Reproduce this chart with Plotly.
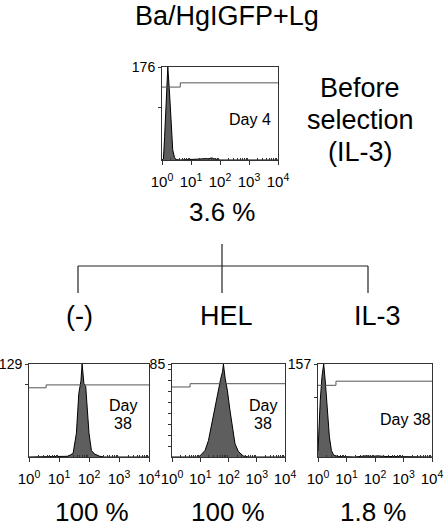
import math
import plotly.graph_objects as go

W, H = 446, 526

# ---------------- data ----------------
title_text = "Ba/HgIGFP+Lg"
branch_labels = ["(-)", "HEL", "IL-3"]
top_percent = "3.6 %"
bottom_percents = ["100 %", "100 %", "1.8 %"]
decade_labels = ["10<sup>0</sup>", "10<sup>1</sup>", "10<sup>2</sup>", "10<sup>3</sup>", "10<sup>4</sup>"]

# histograms: log10 fluorescence positions and counts
top_logx = [0.0, 0.05, 0.09, 0.14, 0.17, 0.20, 0.26, 0.32, 0.37, 0.43, 0.49, 0.6, 1.2, 1.35, 1.5, 1.6, 1.7, 1.8, 1.9, 2.0, 4.0]
top_count = [0, 2, 44, 114, 165, 176, 127, 63, 19, 5, 1, 0, 1, 2, 3, 2, 4, 2, 1, 0, 0]
top_ymax = 176
top_ticks = [100]
top_gate = [0.63, 138, 146]  # step position (log), low level, high level
top_day = "Day 4"

neg_logx = [0.0, 1.2, 1.30, 1.47, 1.58, 1.66, 1.73, 1.77, 1.83, 1.89, 1.94, 2.00, 2.08, 2.19, 2.36, 2.5, 4.0]
neg_count = [0, 0, 1, 5, 33, 88, 105, 129, 102, 98, 70, 33, 9, 4, 1, 0, 0]
neg_ymax = 129
neg_ticks = [100]
neg_gate = [0.57, 96, 100]

hel_logx = [0.0, 0.9, 0.99, 1.17, 1.29, 1.40, 1.52, 1.64, 1.72, 1.79, 1.82, 1.88, 1.96, 2.05, 2.15, 2.23, 2.35, 2.52, 2.7, 4.0]
hel_count = [0, 0, 1, 6, 15, 30, 46, 61, 71, 78, 85, 72, 61, 43, 25, 12, 5, 1, 0, 0]
hel_ymax = 85
hel_ticks = [10, 20, 30, 40, 50, 60, 70, 80]
hel_gate = [0.64, 64, 67]

il3_logx = [0.0, 0.02, 0.08, 0.14, 0.20, 0.26, 0.32, 0.40, 0.47, 0.55, 0.7, 1.3, 1.5, 1.7, 1.9, 2.1, 2.3, 4.0]
il3_count = [10, 40, 96, 136, 157, 125, 78, 34, 11, 3, 1, 0, 1, 2, 1, 2, 1, 0]
il3_ymax = 157
il3_ticks = [100]
il3_gate = [0.63, 121, 128]

panels = [
    dict(x=top_logx, y=top_count, ymax=top_ymax, ticks=top_ticks, gate=top_gate),
    dict(x=neg_logx, y=neg_count, ymax=neg_ymax, ticks=neg_ticks, gate=neg_gate),
    dict(x=hel_logx, y=hel_count, ymax=hel_ymax, ticks=hel_ticks, gate=hel_gate),
    dict(x=il3_logx, y=il3_count, ymax=il3_ymax, ticks=il3_ticks, gate=il3_gate),
]

# ---------------- layout (pixel boxes) ----------------
boxes = [(162, 278, 67, 160), (29, 149, 364, 457), (172, 285, 364, 457), (318, 432, 364, 457)]


def px(x):
    return x / W


def py(y):
    return 1 - y / H


FONT = "Liberation Sans, Arial, Helvetica, sans-serif"
minor_vals = [k + math.log10(m) for k in range(4) for m in range(2, 10)]

fig = go.Figure()
layout = dict(
    width=W, height=H, margin=dict(l=0, r=0, t=0, b=0, pad=0, autoexpand=False),
    paper_bgcolor="white", plot_bgcolor="white", showlegend=False,
    font=dict(family=FONT, color="black"),
)

for i, (p, b) in enumerate(zip(panels, boxes)):
    sfx = "" if i == 0 else str(i + 1)
    xa, ya = "x" + sfx, "y" + sfx
    fig.add_trace(go.Scatter(
        x=p["x"], y=p["y"], mode="lines", fill="tozeroy",
        fillcolor="#5e5e5e", line=dict(color="black", width=1),
        xaxis=xa, yaxis=ya, hoverinfo="skip"))
    g = p["gate"]
    fig.add_trace(go.Scatter(
        x=[0, g[0], g[0], 4], y=[g[1], g[1], g[2], g[2]], mode="lines",
        line=dict(color="#555555", width=1), xaxis=xa, yaxis=ya, hoverinfo="skip"))
    x0, x1, y0, y1 = b
    layout["xaxis" + sfx] = dict(
        domain=[px(x0), px(x1)], anchor=ya, range=[0, 4], type="linear",
        automargin=False,
        showgrid=False, zeroline=False, showline=True, linecolor="#333333", linewidth=1,
        mirror=True, ticks="outside", ticklen=4, tickcolor="#333333",
        ticklabelstandoff=4,
        tickvals=[0, 1, 2, 3, 4], ticktext=decade_labels,
        tickfont=dict(size=15, family=FONT), fixedrange=True,
        minor=dict(tickvals=minor_vals, ticks="inside", ticklen=2, tickcolor="#333333"),
    )
    yt = p["ticks"] + [p["ymax"]]
    layout["yaxis" + sfx] = dict(
        domain=[py(y1), py(y0)], anchor=xa, range=[0, p["ymax"]],
        automargin=False,
        showgrid=False, zeroline=False, showline=True, linecolor="#333333", linewidth=1,
        mirror=True, ticks="outside", ticklen=3, tickcolor="#333333",
        tickvals=yt, ticktext=[""] * len(p["ticks"]) + [str(p["ymax"])],
        tickfont=dict(size=14, family=FONT), fixedrange=True,
    )

fig.update_layout(**layout)

# tree lines
line_style = dict(color="#222222", width=1.2)
shapes = [
    dict(type="line", xref="paper", yref="paper", x0=px(78), x1=px(368), y0=py(266), y1=py(266), line=line_style),
    dict(type="line", xref="paper", yref="paper", x0=px(222), x1=px(222), y0=py(244), y1=py(293), line=line_style),
    dict(type="line", xref="paper", yref="paper", x0=px(78), x1=px(78), y0=py(266), y1=py(293), line=line_style),
    dict(type="line", xref="paper", yref="paper", x0=px(368), x1=px(368), y0=py(266), y1=py(293), line=line_style),
]
fig.update_layout(shapes=shapes)


def text(t, x, y, size, align="center"):
    fig.add_annotation(text=t, x=px(x), y=py(y), xref="paper", yref="paper",
                       showarrow=False, xanchor="center", yanchor="middle",
                       align=align, font=dict(size=size, family=FONT, color="black"))


text(title_text, 227, 16, 27)
text("Before", 360, 88, 27)
text("selection", 360, 120, 27)
text("(IL-3)", 360, 152, 27)
text(top_percent, 222, 212, 26)
for lbl, x in zip(branch_labels, [79, 226, 377]):
    text(lbl, x, 316, 27)
for lbl, x in zip(bottom_percents, [92, 228, 373]):
    text(lbl, x, 512, 26)

# day labels
text(top_day, 250, 120, 16)
text("Day", 123, 405, 16)
text("38", 123, 423, 16)
text("Day", 263, 405, 16)
text("38", 263, 423, 16)
text("Day 38", 405, 419, 16)

fig.write_html(
    "out.html",
    config={"displayModeBar": False},
    post_script="document.body.style.margin='0';document.body.style.padding='0';"
                "document.documentElement.style.overflow='hidden';",
)
